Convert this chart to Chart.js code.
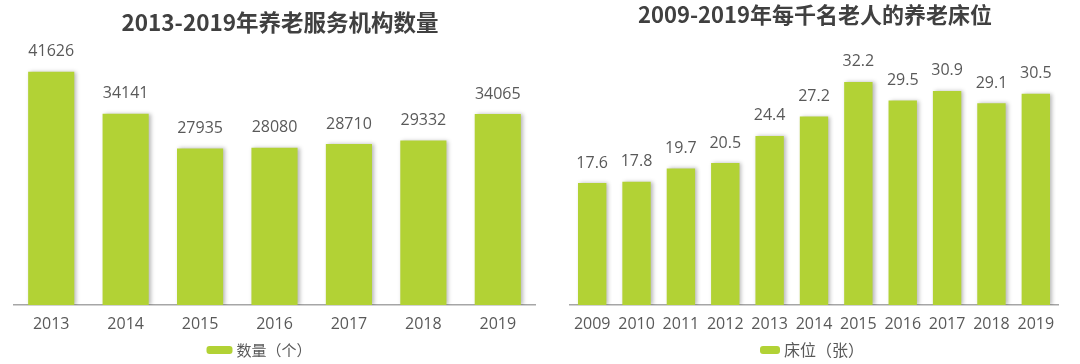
<!DOCTYPE html>
<html>
<head>
<meta charset="utf-8">
<script src="https://cdn.jsdelivr.net/npm/chart.js@4.4.1/dist/chart.umd.min.js"></script>
<style>
  html, body { margin: 0; padding: 0; background: #ffffff; }
  #wrap { position: relative; width: 1080px; height: 364px; overflow: hidden; }
  .box { position: absolute; top: 0; width: 540px; height: 364px; }
  #b1 { left: 0; }
  #b2 { left: 540px; }
</style>
</head>
<body>
<div id="wrap">
  <div class="box" id="b1"><canvas id="c1" width="540" height="364"></canvas></div>
  <div class="box" id="b2"><canvas id="c2" width="540" height="364"></canvas></div>
</div>
<script>
// ---- data ----
const title1 = "2013-2019年养老服务机构数量";
const years1 = ["2013", "2014", "2015", "2016", "2017", "2018", "2019"];
const counts1 = [41626, 34141, 27935, 28080, 28710, 29332, 34065];
const label1 = "数量（个）";

const title2 = "2009-2019年每千名老人的养老床位";
const years2 = ["2009", "2010", "2011", "2012", "2013", "2014", "2015", "2016", "2017", "2018", "2019"];
const beds2 = [17.6, 17.8, 19.7, 20.5, 24.4, 27.2, 32.2, 29.5, 30.9, 29.1, 30.5];
const label2 = "床位（张）";

const GREEN = "#b2d235";
const NUM_FONT = '"Open Sans", "Noto Sans CJK SC", sans-serif';
const CJK_FONT = '"Noto Sans CJK SC", "Noto Sans", sans-serif';

function makePlugin(cfg) {
  return {
    id: 'deco' + cfg.key,
    beforeDatasetsDraw(chart) {
      const ctx = chart.ctx;
      ctx.save();
      ctx.shadowColor = 'rgba(0,0,0,0.28)';
      ctx.shadowBlur = 4;
      ctx.shadowOffsetX = 2;
      ctx.shadowOffsetY = 0;
    },
    afterDatasetsDraw(chart) {
      const ctx = chart.ctx;
      ctx.restore();
      const meta = chart.getDatasetMeta(0);
      const data = chart.data.datasets[0].data;
      ctx.save();
      ctx.fillStyle = '#595959';
      ctx.font = cfg.valFont + 'px ' + NUM_FONT;
      ctx.textAlign = 'center';
      ctx.textBaseline = 'middle';
      meta.data.forEach((el, i) => {
        ctx.fillText(String(data[i]), el.x, el.y - 20);
      });
      ctx.restore();
    },
    afterDraw(chart) {
      const ctx = chart.ctx;
      ctx.save();
      // title
      ctx.fillStyle = '#404040';
      ctx.font = 'bold ' + cfg.titleSize + 'px ' + CJK_FONT;
      ctx.textAlign = 'center';
      ctx.textBaseline = 'middle';
      ctx.fillText(cfg.title, cfg.titleX, cfg.titleY);
      // legend
      ctx.font = cfg.legFont + 'px ' + CJK_FONT;
      const txt = chart.data.datasets[0].label;
      const tw = ctx.measureText(txt).width;
      const total = cfg.legBoxW + 4 + tw;
      const x0 = cfg.legCx - total / 2;
      ctx.fillStyle = GREEN;
      ctx.beginPath();
      if (ctx.roundRect) ctx.roundRect(x0, cfg.legY - cfg.legBoxH / 2, cfg.legBoxW, cfg.legBoxH, 3);
      else ctx.rect(x0, cfg.legY - cfg.legBoxH / 2, cfg.legBoxW, cfg.legBoxH);
      ctx.fill();
      ctx.fillStyle = '#595959';
      ctx.textAlign = 'left';
      ctx.fillText(txt, x0 + cfg.legBoxW + 4, cfg.legY);
      ctx.restore();
    }
  };
}

function makeChart(id, labels, values, dsLabel, cfg) {
  return new Chart(document.getElementById(id), {
    type: 'bar',
    data: {
      labels: labels,
      datasets: [{
        label: dsLabel,
        data: values,
        backgroundColor: GREEN,
        borderWidth: 0,
        categoryPercentage: 1.0,
        barPercentage: cfg.barPct
      }]
    },
    options: {
      responsive: false,
      animation: false,
      devicePixelRatio: 1,
      layout: { padding: { left: cfg.padL, right: cfg.padR, top: cfg.padT, bottom: cfg.padB } },
      plugins: { legend: { display: false }, title: { display: false }, tooltip: { enabled: false } },
      scales: {
        x: {
          grid: { display: false, drawTicks: false },
          border: { display: true, color: '#a6a6a6', width: 1.5 },
          ticks: { color: '#595959', font: { size: cfg.tickFont, family: NUM_FONT }, padding: cfg.tickPad, maxRotation: 0, autoSkip: false },
          afterFit(scale) { scale.height = 30; }
        },
        y: {
          display: false,
          min: 0,
          max: cfg.yMax
        }
      }
    },
    plugins: [makePlugin(cfg)]
  });
}

makeChart('c1', years1, counts1, label1, {
  key: 1, barPct: 0.62, padL: 14, padR: 5, padT: 50, padB: 29, yMax: 45500,
  tickFont: 16, tickPad: 10, valFont: 16,
  title: title1, titleSize: 22.5, titleX: 280, titleY: 22,
  legCx: 259, legY: 350, legBoxW: 26, legBoxH: 8, legFont: 15
});

makeChart('c2', years2, beds2, label2, {
  key: 2, barPct: 0.64, padL: 30, padR: 22, padT: 50, padB: 29, yMax: 36.8,
  tickFont: 16, tickPad: 10, valFont: 16,
  title: title2, titleSize: 22, titleX: 275, titleY: 15,
  legCx: 272, legY: 350, legBoxW: 20, legBoxH: 8, legFont: 16
});
</script>
</body>
</html>
